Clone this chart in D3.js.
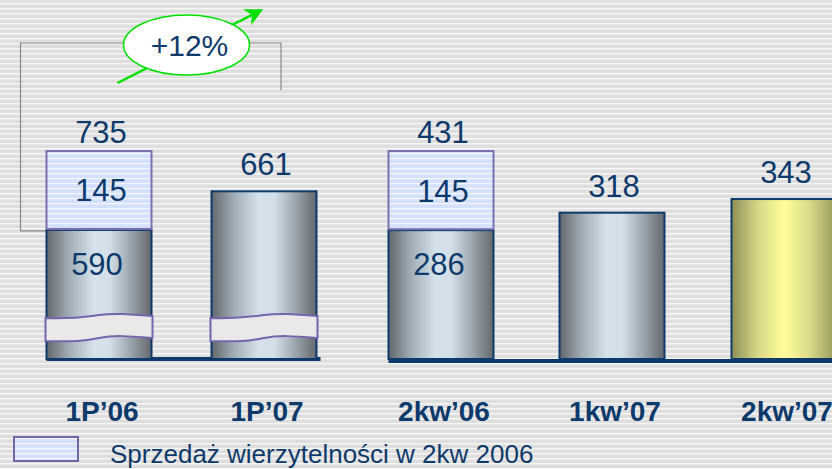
<!DOCTYPE html>
<html>
<head>
<meta charset="utf-8">
<script src="https://cdn.jsdelivr.net/npm/d3@7"></script>
<style>
  body { margin: 0; background: #e0e0e0; }
  svg { display: block; }
</style>
</head>
<body>
<div id="chart"></div>
<script>
// data
var categories = ["1P\u201906", "1P\u201907", "2kw\u201906", "1kw\u201907", "2kw\u201907"];
var baseValues = [590, 661, 286, 318, 343];
var saleValues = [145, 0, 145, 0, 0];
var totalValues = [735, 661, 431, 318, 343];
var brokenAxis = [true, true, false, false, false];
var growthLabel = "+12%";
var legendLabel = "Sprzeda\u017C wierzytelno\u015Bci w 2kw 2006";

var width = 832, height = 469;
var navy = "#0e3a6b";
var font = "Liberation Sans, Arial, sans-serif";

var svg = d3.select("#chart").append("svg")
  .attr("width", width)
  .attr("height", height);

var defs = svg.append("defs");

// striped background
var bg = defs.append("pattern").attr("id", "bgStripes")
  .attr("patternUnits", "userSpaceOnUse").attr("width", 8).attr("height", 5);
bg.append("rect").attr("width", 8).attr("height", 5).attr("fill", "#dedede");
bg.append("rect").attr("y", 3).attr("width", 8).attr("height", 1.5).attr("fill", "#f6f6f6");

// striped blue for the sale segment
var bl = defs.append("pattern").attr("id", "blueStripes")
  .attr("patternUnits", "userSpaceOnUse").attr("width", 8).attr("height", 5);
bl.append("rect").attr("width", 8).attr("height", 5).attr("fill", "#d5e1fc");
bl.append("rect").attr("y", 3).attr("width", 8).attr("height", 1.2).attr("fill", "#f4f7ff");

function gradient(id, stops) {
  var g = defs.append("linearGradient").attr("id", id)
    .attr("x1", "0%").attr("x2", "100%").attr("y1", "0%").attr("y2", "0%");
  stops.forEach(function (s) {
    g.append("stop").attr("offset", s[0]).attr("stop-color", s[1]);
  });
}
gradient("steel", [["0%", "#62676c"], ["22%", "#a3afb8"], ["45%", "#d5e2eb"], ["60%", "#d3dfe8"], ["80%", "#9ba5ad"], ["100%", "#63686d"]]);
gradient("gold", [["0%", "#8f8f58"], ["25%", "#d7d787"], ["50%", "#ffff99"], ["75%", "#d9d98a"], ["100%", "#97975a"]]);

var arrowM = defs.append("marker").attr("id", "arrow")
  .attr("viewBox", "0 0 10 10").attr("refX", 9).attr("refY", 5)
  .attr("orient", "auto")
  .attr("markerUnits", "userSpaceOnUse")
  .attr("markerWidth", 26).attr("markerHeight", 18);
arrowM.append("path").attr("d", "M0,0 L10,5 L0,10 L3,5 Z").attr("fill", "#00e000");

svg.append("rect").attr("width", width).attr("height", height).attr("fill", "url(#bgStripes)");

// scales
var x = d3.scaleOrdinal().domain(categories).range([99, 264, 441, 612, 784]);
var barW = 105;
var yFull = d3.scaleLinear().domain([50, 431]).range([359, 151]);
var yBroken = d3.scaleLinear().domain([353, 735]).range([359, 151]);
function yOf(i) { return brokenAxis[i] ? yBroken : yFull; }

// annotation bracket + growth ellipse (behind the bars)
var x0 = x(categories[0]), x1 = x(categories[1]);
var bracketTop = 43;
svg.append("path")
  .attr("d", "M" + (x1 + 17) + "," + 90 + " V" + bracketTop + " H" + (x0 - barW / 2 - 26) +
    " V" + (yBroken(baseValues[0]) + 1) + " H" + (x0 - barW / 2))
  .attr("fill", "none").attr("stroke", "#8a8a8a").attr("stroke-width", 1.2);

var cx = (x0 + x1) / 2 + 5, cy = 45;
svg.append("line")
  .attr("x1", cx - 69).attr("y1", cy + 38).attr("x2", cx + 75).attr("y2", cy - 35)
  .attr("stroke", "#00e000").attr("stroke-width", 2.5).attr("marker-end", "url(#arrow)");
svg.append("ellipse").attr("cx", cx).attr("cy", cy).attr("rx", 63).attr("ry", 30)
  .attr("fill", "white").attr("stroke", "#00e000").attr("stroke-width", 1.5);
svg.append("text").attr("x", cx + 3).attr("y", cy + 11)
  .attr("text-anchor", "middle").attr("font-family", font)
  .attr("font-size", 30).attr("fill", navy).text(growthLabel);

// baselines
var groups = [[0, 1], [2, 4]];
groups.forEach(function (g, k) {
  var y0 = (k === 0 ? yBroken.range()[0] : yFull.range()[0]);
  svg.append("rect")
    .attr("x", x(categories[g[0]]) - barW / 2)
    .attr("y", y0 - 2 + k * 2)
    .attr("width", x(categories[g[1]]) - x(categories[g[0]]) + barW + (k === 0 ? 4 : 60))
    .attr("height", 4)
    .attr("fill", navy);
});

// bars
var bars = svg.append("g").selectAll("g").data(categories).enter().append("g");

bars.append("rect")
  .attr("x", function (d) { return x(d) - barW / 2; })
  .attr("y", function (d, i) { return yOf(i)(baseValues[i]); })
  .attr("width", barW)
  .attr("height", function (d, i) { return yOf(i).range()[0] - yOf(i)(baseValues[i]); })
  .attr("fill", function (d, i) { return i === 4 ? "url(#gold)" : "url(#steel)"; })
  .attr("stroke", navy).attr("stroke-width", 2);

bars.filter(function (d, i) { return saleValues[i] > 0; })
  .append("rect")
  .attr("x", function (d) { return x(d) - barW / 2; })
  .attr("y", function (d) { var i = categories.indexOf(d); return yOf(i)(totalValues[i]); })
  .attr("width", barW)
  .attr("height", function (d) {
    var i = categories.indexOf(d);
    return yOf(i)(baseValues[i]) - yOf(i)(totalValues[i]) - 1;
  })
  .attr("fill", "url(#blueStripes)")
  .attr("stroke", "#7a70b0").attr("stroke-width", 2);

// axis break bands
bars.filter(function (d, i) { return brokenAxis[i]; })
  .append("path")
  .attr("d", function (d) {
    var l = x(d) - barW / 2 - 1, r = x(d) + barW / 2 + 1, m = x(d);
    var t = 318;
    return "M" + l + "," + t +
      " C" + (m - 25) + "," + (t + 1) + " " + (m - 15) + "," + (t - 1) + " " + m + "," + (t - 3) +
      " C" + (m + 15) + "," + (t - 5) + " " + (r - 25) + "," + (t - 4) + " " + r + "," + (t - 2) +
      " L" + r + "," + (t + 20) +
      " C" + (r - 25) + "," + (t + 18) + " " + (m + 15) + "," + (t + 17) + " " + m + "," + (t + 20) +
      " C" + (m - 15) + "," + (t + 23) + " " + (m - 25) + "," + (t + 24) + " " + l + "," + (t + 23) + " Z";
  })
  .attr("fill", "#e9e9e9").attr("stroke", "#7466ad").attr("stroke-width", 2);

// value labels
bars.append("text")
  .attr("x", function (d) { return x(d) + 2; })
  .attr("y", function (d, i) { return yOf(i)(totalValues[i]) - (saleValues[i] > 0 ? 8 : 16); })
  .attr("text-anchor", "middle").attr("font-family", font).attr("font-size", 31)
  .attr("fill", navy).text(function (d, i) { return totalValues[i]; });

bars.filter(function (d, i) { return saleValues[i] > 0; })
  .each(function (d) {
    var i = categories.indexOf(d), y = yOf(i);
    d3.select(this).append("text")
      .attr("x", x(d) + 2)
      .attr("y", (y(totalValues[i]) + y(baseValues[i])) / 2 + 11)
      .attr("text-anchor", "middle").attr("font-family", font).attr("font-size", 31)
      .attr("fill", navy).text(saleValues[i]);
    d3.select(this).append("text")
      .attr("x", x(d) - 2)
      .attr("y", y(baseValues[i]) + 45)
      .attr("text-anchor", "middle").attr("font-family", font).attr("font-size", 31)
      .attr("fill", navy).text(baseValues[i]);
  });

// category labels
svg.append("g").selectAll("text").data(categories).enter().append("text")
  .attr("x", function (d) { return x(d) + 3; })
  .attr("y", 421)
  .attr("text-anchor", "middle").attr("font-family", font).attr("font-weight", "bold")
  .attr("font-size", 28).attr("fill", navy).text(function (d) { return d; });

// legend
svg.append("rect").attr("x", 14).attr("y", 437).attr("width", 64).attr("height", 24)
  .attr("fill", "url(#blueStripes)").attr("stroke", "#7068a8").attr("stroke-width", 2);
svg.append("text").attr("x", 110).attr("y", 463)
  .attr("font-family", font).attr("font-size", 26).attr("fill", navy).text(legendLabel);
</script>
</body>
</html>
